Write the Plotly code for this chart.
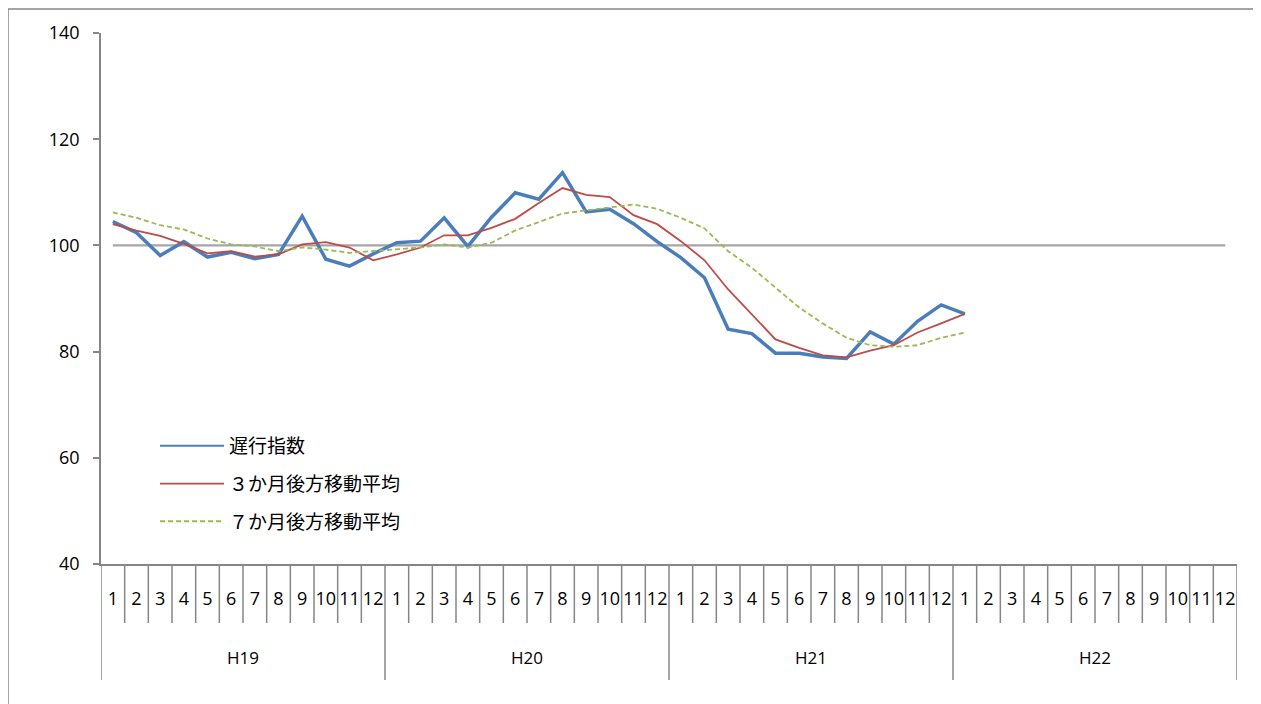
import plotly.graph_objects as go

years = ["H19", "H20", "H21", "H22"]
months = [str(m) for m in range(1, 13)]
categories = [f"{y}-{m}" for y in years for m in months]

lagging_index = [104.5, 102.4, 98.1, 100.7, 97.8, 98.7, 97.5, 98.3, 105.5, 97.4, 96.1, 98.4,
                 100.5, 100.8, 105.2, 99.8, 105.3, 109.9, 108.7, 113.7, 106.3, 106.8, 104.1, 100.7,
                 97.7, 93.9, 84.2, 83.4, 79.7, 79.7, 79.0, 78.7, 83.7, 81.4, 85.7, 88.8,
                 87.1]
ma3 = [104.0, 102.8, 101.8, 100.3, 98.5, 98.9, 97.9, 98.3, 100.2, 100.6, 99.6, 97.2,
       98.3, 99.6, 101.9, 101.9, 103.3, 105.0, 108.0, 110.8, 109.5, 109.1, 105.7, 104.0,
       100.8, 97.2, 91.7, 87.0, 82.3, 80.7, 79.3, 78.9, 80.2, 81.2, 83.6, 85.3,
       87.1]
ma7 = [106.2, 105.2, 103.8, 103.0, 101.3, 100.2, 99.8, 98.9, 99.6, 99.2, 98.6, 98.9,
       99.2, 99.6, 100.2, 99.6, 100.5, 102.8, 104.4, 106.0, 106.6, 107.1, 107.7, 106.9,
       105.2, 103.2, 98.9, 95.8, 92.0, 88.3, 85.3, 82.6, 81.2, 80.9, 81.2, 82.6,
       83.6]
baseline = [100] * len(categories)

series_names = ["遅行指数", "３か月後方移動平均", "７か月後方移動平均"]

# page has an 8px body margin; figure sized to fit the 1261x704 window
W, H = 1253, 696
L, R, T, B = 93, 24, 25, 140
plot_w = W - L - R
plot_h = H - T - B

def py(pixel_y):
    # screenshot pixel -> paper fraction
    return (564 - pixel_y) / plot_h

def px(pixel_x):
    return (pixel_x - 101) / plot_w

AX = "#868686"
BLUE, RED, GREEN = "#4A7EBB", "#BE4B48", "#98B954"
font_num = "Open Sans"
font_jp = "Noto Sans CJK JP"

fig = go.Figure()
fig.add_trace(go.Scatter(x=categories, y=baseline, mode="lines", showlegend=False,
                         line=dict(color="#A6A6A6", width=2.2), hoverinfo="skip"))
fig.add_trace(go.Scatter(x=categories[:len(lagging_index)], y=lagging_index, mode="lines",
                         name=series_names[0], legendgroup="a", showlegend=False,
                         line=dict(color=BLUE, width=3.5)))
# legend entry for the index series, drawn with the thinner sample line Excel uses
fig.add_trace(go.Scatter(x=[categories[0]], y=[None], mode="lines",
                         name=series_names[0], legendgroup="a", hoverinfo="skip",
                         line=dict(color=BLUE, width=2)))
fig.add_trace(go.Scatter(x=categories[:len(ma3)], y=ma3, mode="lines",
                         name=series_names[1], legendgroup="b",
                         line=dict(color=RED, width=1.8)))
fig.add_trace(go.Scatter(x=categories[:len(ma7)], y=ma7, mode="lines",
                         name=series_names[2], legendgroup="c",
                         line=dict(color=GREEN, width=1.8, dash="5px,3px")))

shapes = []
n = len(categories)
for i in range(n + 1):
    xb = i - 0.5
    long = (i % 12 == 0)
    shapes.append(dict(type="line", xref="x", yref="paper", x0=xb, x1=xb,
                       y0=py(565), y1=py(680 if long else 623),
                       line=dict(color=AX, width=1.5)))
# outer chart border
shapes.append(dict(type="rect", xref="paper", yref="paper",
                   x0=px(8), x1=1.2, y0=-1, y1=py(9),
                   line=dict(color=AX, width=1.5), fillcolor="rgba(0,0,0,0)"))

annotations = []
for k, y in enumerate(years):
    annotations.append(dict(x=k * 12 + 5.5, y=py(657), xref="x", yref="paper",
                            xanchor="center", yanchor="middle",
                            text=y, showarrow=False,
                            font=dict(family=font_num, size=17, color="#000000")))

fig.update_layout(
    width=W, height=H,
    margin=dict(l=L, r=R, t=T, b=B),
    paper_bgcolor="white", plot_bgcolor="white",
    shapes=shapes, annotations=annotations,
    showlegend=True,
    legend=dict(x=px(155), y=py(427), xanchor="left", yanchor="top",
                bgcolor="rgba(0,0,0,0)", traceorder="grouped", tracegroupgap=10,
                font=dict(family=font_jp, size=19, color="#000000"), itemwidth=64),
    xaxis=dict(type="category", categoryorder="array", categoryarray=categories,
               range=[-0.5, n - 0.5], tickvals=categories, ticktext=months * len(years),
               ticks="", showgrid=False, zeroline=False, showline=True,
               linecolor=AX, linewidth=1.5, ticklabelstandoff=18, tickangle=0,
               tickfont=dict(family=font_num, size=18, color="#000000")),
    yaxis=dict(range=[40, 140], dtick=20, tick0=40, ticks="outside", ticklen=6,
               tickcolor=AX, tickwidth=1.5, showgrid=False, zeroline=False,
               showline=True, linecolor=AX, linewidth=1.5, ticklabelstandoff=10,
               tickfont=dict(family=font_num, size=18, color="#000000")),
)

fig.write_html("out.html")
